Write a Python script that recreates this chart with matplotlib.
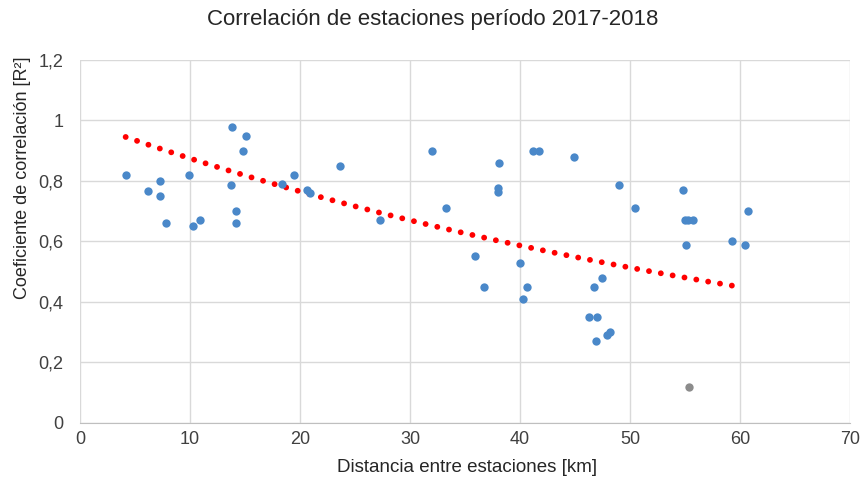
import numpy as np
import matplotlib.pyplot as plt

# Distancia entre estaciones [km] y coeficiente R2 (serie principal)
dist_km = [4.15, 6.2, 7.3, 7.25, 7.8, 9.95, 10.25, 10.9, 13.8, 13.7, 14.15, 14.2,
           15.05, 14.8, 18.4, 19.5, 20.6, 20.9, 23.6, 27.3, 32.0, 33.3, 38.1,
           38.0, 38.0, 41.2, 41.75, 44.9, 49.0, 50.5, 35.9, 36.75, 40.0, 40.6,
           40.25, 46.7, 47.5, 46.3, 47.0, 46.9, 47.9, 48.2, 54.85, 55.0, 55.3,
           55.7, 55.1, 59.3, 60.5, 60.7]
r2 = [0.82, 0.767, 0.798, 0.751, 0.66, 0.82, 0.652, 0.669, 0.979, 0.787, 0.699, 0.659,
      0.95, 0.899, 0.789, 0.82, 0.77, 0.759, 0.849, 0.669, 0.899, 0.71, 0.858,
      0.776, 0.762, 0.899, 0.899, 0.879, 0.787, 0.71, 0.551, 0.45, 0.529, 0.45,
      0.408, 0.45, 0.48, 0.348, 0.348, 0.271, 0.291, 0.301, 0.768, 0.669, 0.669,
      0.669, 0.589, 0.60, 0.587, 0.699]

# punto aislado (gris)
outlier_km = [55.4]
outlier_r2 = [0.118]

# tendencia exponencial y = a*exp(b*x)
trend_a = 0.999
trend_b = -0.01334
trend_range = [4.15, 60.3]

xticks = [0, 10, 20, 30, 40, 50, 60, 70]
yticks = [0, 0.2, 0.4, 0.6, 0.8, 1.0, 1.2]

plt.rcParams['font.family'] = ['Liberation Sans', 'DejaVu Sans']

fig = plt.figure(figsize=(8.62, 4.79), dpi=100)
ax = fig.add_axes([80 / 862, 1 - 422.5 / 479, 770 / 862, 362.5 / 479])

xt = np.linspace(trend_range[0], trend_range[1], 200)
yt = trend_a * np.exp(trend_b * xt)
ax.plot(xt, yt, color='#ff0000', lw=4.2, linestyle=(0, (0.01, 2.05)),
        dash_capstyle='round', zorder=3)

ax.scatter(dist_km, r2, s=36, color='#4a88c9', zorder=4, linewidths=0)
ax.scatter(outlier_km, outlier_r2, s=36, color='#8c8c8c', zorder=4, linewidths=0)

ax.set_xlim(0, 70)
ax.set_ylim(0, 1.2)
ax.set_xticks(xticks)
ax.set_yticks(yticks)
ax.set_xticklabels([str(t) for t in xticks])
ax.set_yticklabels([('%g' % t).replace('.', ',') for t in yticks])
ax.grid(True, color='#d9d9d9', lw=1)
ax.set_axisbelow(True)
for s in ['top', 'right', 'left']:
    ax.spines[s].set_visible(False)
ax.spines['bottom'].set_color('#bfbfbf')
ax.tick_params(axis='x', length=0, labelsize=13, colors='#404040', pad=6)
ax.tick_params(axis='y', length=0, labelsize=13, colors='#404040', pad=12)

fig.text(433 / 862, 1 - 20 / 479, 'Correlación de estaciones período 2017-2018',
         ha='center', va='center', fontsize=16, color='#262626')
fig.text(467 / 862, 1 - 467 / 479, 'Distancia entre estaciones [km]',
         ha='center', va='center', fontsize=13.5, color='#262626')
fig.text(23 / 862, 1 - 178 / 479, 'Coeficiente de correlación [R²]',
         ha='center', va='center', rotation=90, fontsize=13, color='#262626')

fig.savefig('out.png', dpi=100)
